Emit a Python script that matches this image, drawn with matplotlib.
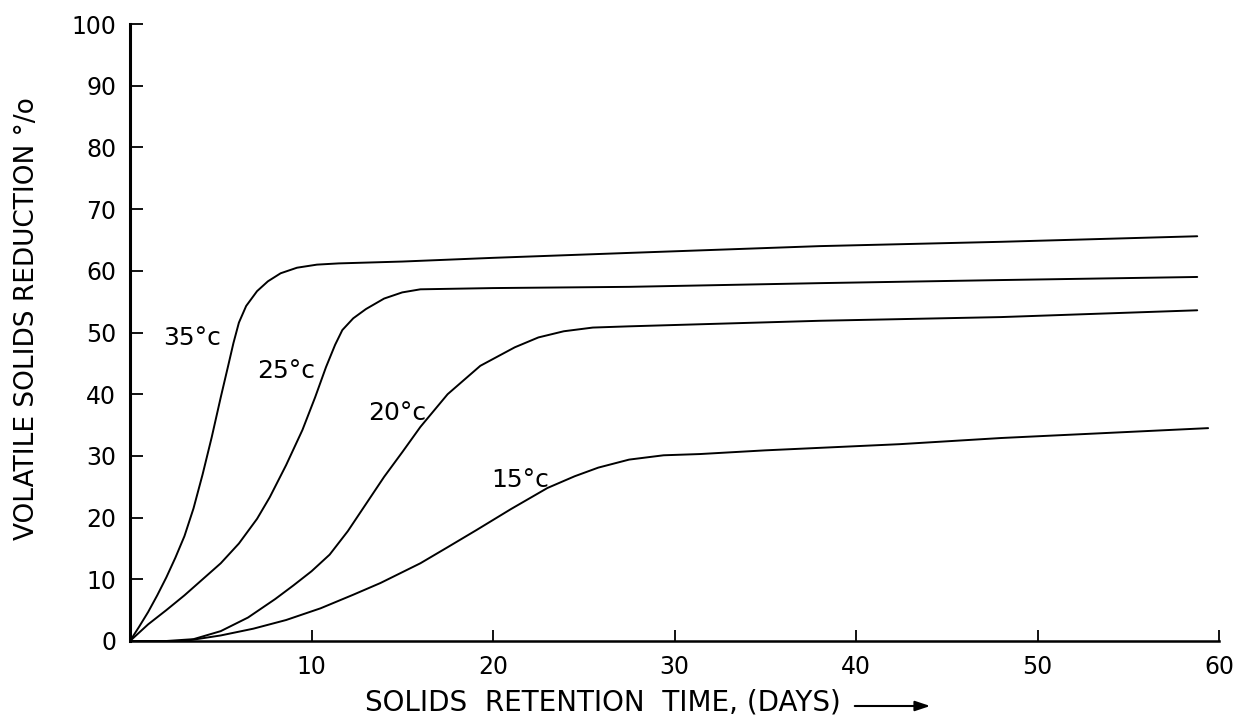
import matplotlib
matplotlib.use('Agg')
import matplotlib.pyplot as plt

# values (day, % volatile solids reduction)
days_35 = [0, 0.5, 1, 1.5, 2, 2.5, 3, 3.5, 4, 4.5, 5.0, 5.4, 5.7, 6.0, 6.4, 7.0, 7.6, 8.3, 9.2, 10.3, 11.5, 15, 20, 27.5, 38, 48, 58.8]
vsr_35 = [0, 2.3, 4.7, 7.4, 10.3, 13.5, 17, 21.5, 27, 33, 39.5, 44.5, 48.3, 51.6, 54.3, 56.7, 58.3, 59.6, 60.5, 61.0, 61.2, 61.5, 62.1, 62.9, 64.0, 64.7, 65.6]

days_25 = [0, 1, 2, 3, 4, 5, 6, 7, 7.7, 8.6, 9.5, 10.2, 10.8, 11.3, 11.7, 12.3, 13, 14, 15, 16, 20, 27.5, 38, 48, 58.8]
vsr_25 = [0, 2.7, 5.0, 7.4, 10, 12.6, 15.8, 19.8, 23.3, 28.5, 34.2, 39.5, 44.4, 48, 50.4, 52.3, 53.8, 55.5, 56.5, 57.0, 57.2, 57.4, 58.0, 58.5, 59.0]

days_20 = [0, 2, 3.5, 5, 6.5, 8, 9, 10, 11, 12, 13, 14, 15, 16, 17.5, 19.3, 21.2, 22.5, 23.9, 25.5, 27.5, 38, 48, 58.8]
vsr_20 = [0, 0, 0.3, 1.6, 3.8, 6.8, 9.0, 11.3, 14.0, 17.8, 22.2, 26.6, 30.6, 34.7, 40, 44.6, 47.6, 49.2, 50.2, 50.8, 51.0, 51.9, 52.5, 53.6]

days_15 = [0, 3, 5, 6.8, 8.6, 10.5, 12.3, 13.8, 16, 17.5, 19.1, 21, 23, 24.5, 25.8, 27.5, 29.4, 31.4, 35, 42.4, 48, 59.4]
vsr_15 = [0, 0, 0.9, 2, 3.4, 5.3, 7.5, 9.4, 12.6, 15.2, 18, 21.4, 24.8, 26.7, 28.1, 29.4, 30.1, 30.3, 30.9, 31.9, 32.9, 34.5]

labels = ['35°c', '25°c', '20°c', '15°c']
label_pos = [(1.8, 48.0), (7.0, 42.6), (13.1, 35.8), (19.9, 25.0)]

xticks = [10, 20, 30, 40, 50, 60]
yticks = [0, 10, 20, 30, 40, 50, 60, 70, 80, 90, 100]

fig = plt.figure(figsize=(12.55, 7.23), dpi=100)
ax = fig.add_axes([130/1255, 1-641/723, (1219-130)/1255, (641-24)/723])

for d, v in [(days_35, vsr_35), (days_25, vsr_25), (days_20, vsr_20), (days_15, vsr_15)]:
    ax.plot(d, v, color='black', lw=1.4, solid_joinstyle='round', solid_capstyle='round')

for lab, (x, y) in zip(labels, label_pos):
    ax.text(x, y, lab, fontsize=18, ha='left', va='baseline')

ax.set_xlim(0, 60)
ax.set_ylim(0, 100)
ax.set_xticks(xticks)
ax.set_yticks(yticks)
ax.spines['top'].set_visible(False)
ax.spines['right'].set_visible(False)
ax.spines['left'].set_linewidth(2.2)
ax.spines['bottom'].set_linewidth(1.8)
ax.tick_params(axis='y', direction='in', length=9, width=1.3, labelsize=17, pad=10)
ax.tick_params(axis='x', direction='in', length=8, width=1.3, labelsize=17, pad=10)

fig.text(365/1255, 1-703/723, 'SOLIDS  RETENTION  TIME, (DAYS)', fontsize=20, ha='left', va='center')
ax.annotate('', xy=(933/1255, 1-706/723), xytext=(852/1255, 1-706/723),
            xycoords='figure fraction', textcoords='figure fraction',
            arrowprops=dict(arrowstyle='-|>,head_length=0.9,head_width=0.3', color='black', lw=1.5))
fig.text(27/1255, 1-319/723, 'VOLATILE SOLIDS REDUCTION °/o', fontsize=19, rotation=90,
         ha='center', va='center')

fig.savefig('out.png', dpi=100, facecolor='white')
